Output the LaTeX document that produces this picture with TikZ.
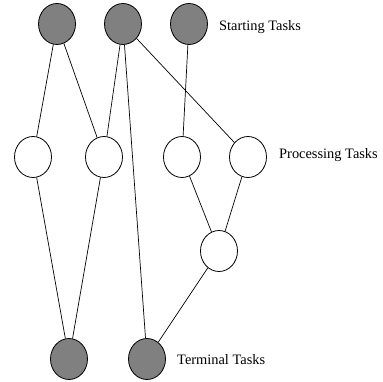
\documentclass[tikz,border=0pt]{standalone}
\usepackage{fontspec}
\setmainfont{Liberation Serif}
\usepgflibrary{shapes}

\begin{document}
\begin{tikzpicture}[x=1pt,y=-1pt,
        task/.style = {draw, ellipse, minimum width=37pt, minimum height=41pt, inner sep=0pt, line width=0.8pt, fill=white},
        endtask/.style = {task, fill=gray},
        tag/.style = {anchor=west, inner sep=0pt, font=\fontsize{14.4}{17}\selectfont}]
        \useasboundingbox (0,0) rectangle (383,381);
        % starting tasks
        \node[endtask] (s1) at (57,24) {};
        \node[endtask] (s2) at (123,24) {};
        \node[endtask] (s3) at (189,24) {};
        % processing tasks
        \node[task] (p1) at (33,157) {};
        \node[task] (p2) at (104,157) {};
        \node[task] (p3) at (182,157) {};
        \node[task] (p4) at (248,157) {};
        \node[task] (p5) at (219,251) {};
        % terminal tasks
        \node[endtask] (t1) at (69,359) {};
        \node[endtask] (t2) at (147,359) {};

        \node[tag] (lstart) at (219,27) {Starting Tasks};
        \node[tag] (lproc) at (279,155) {Processing Tasks};
        \node[tag] (lterm) at (177,360) {Terminal Tasks};

        \begin{scope}[line width=0.7pt]
        \draw (s1) -- (p1);
        \draw (s1) -- (p2);
        \draw (s2) -- (p2);
        \draw (s2) -- (p4);
        \draw (s2) -- (t2);
        \draw (s3) -- (p3);
        \draw (p1) -- (t1);
        \draw (p2) -- (t1);
        \draw (p3) -- (p5);
        \draw (p4) -- (p5);
        \draw (p5) -- (t2);
        \end{scope}
\end{tikzpicture}
\end{document}
